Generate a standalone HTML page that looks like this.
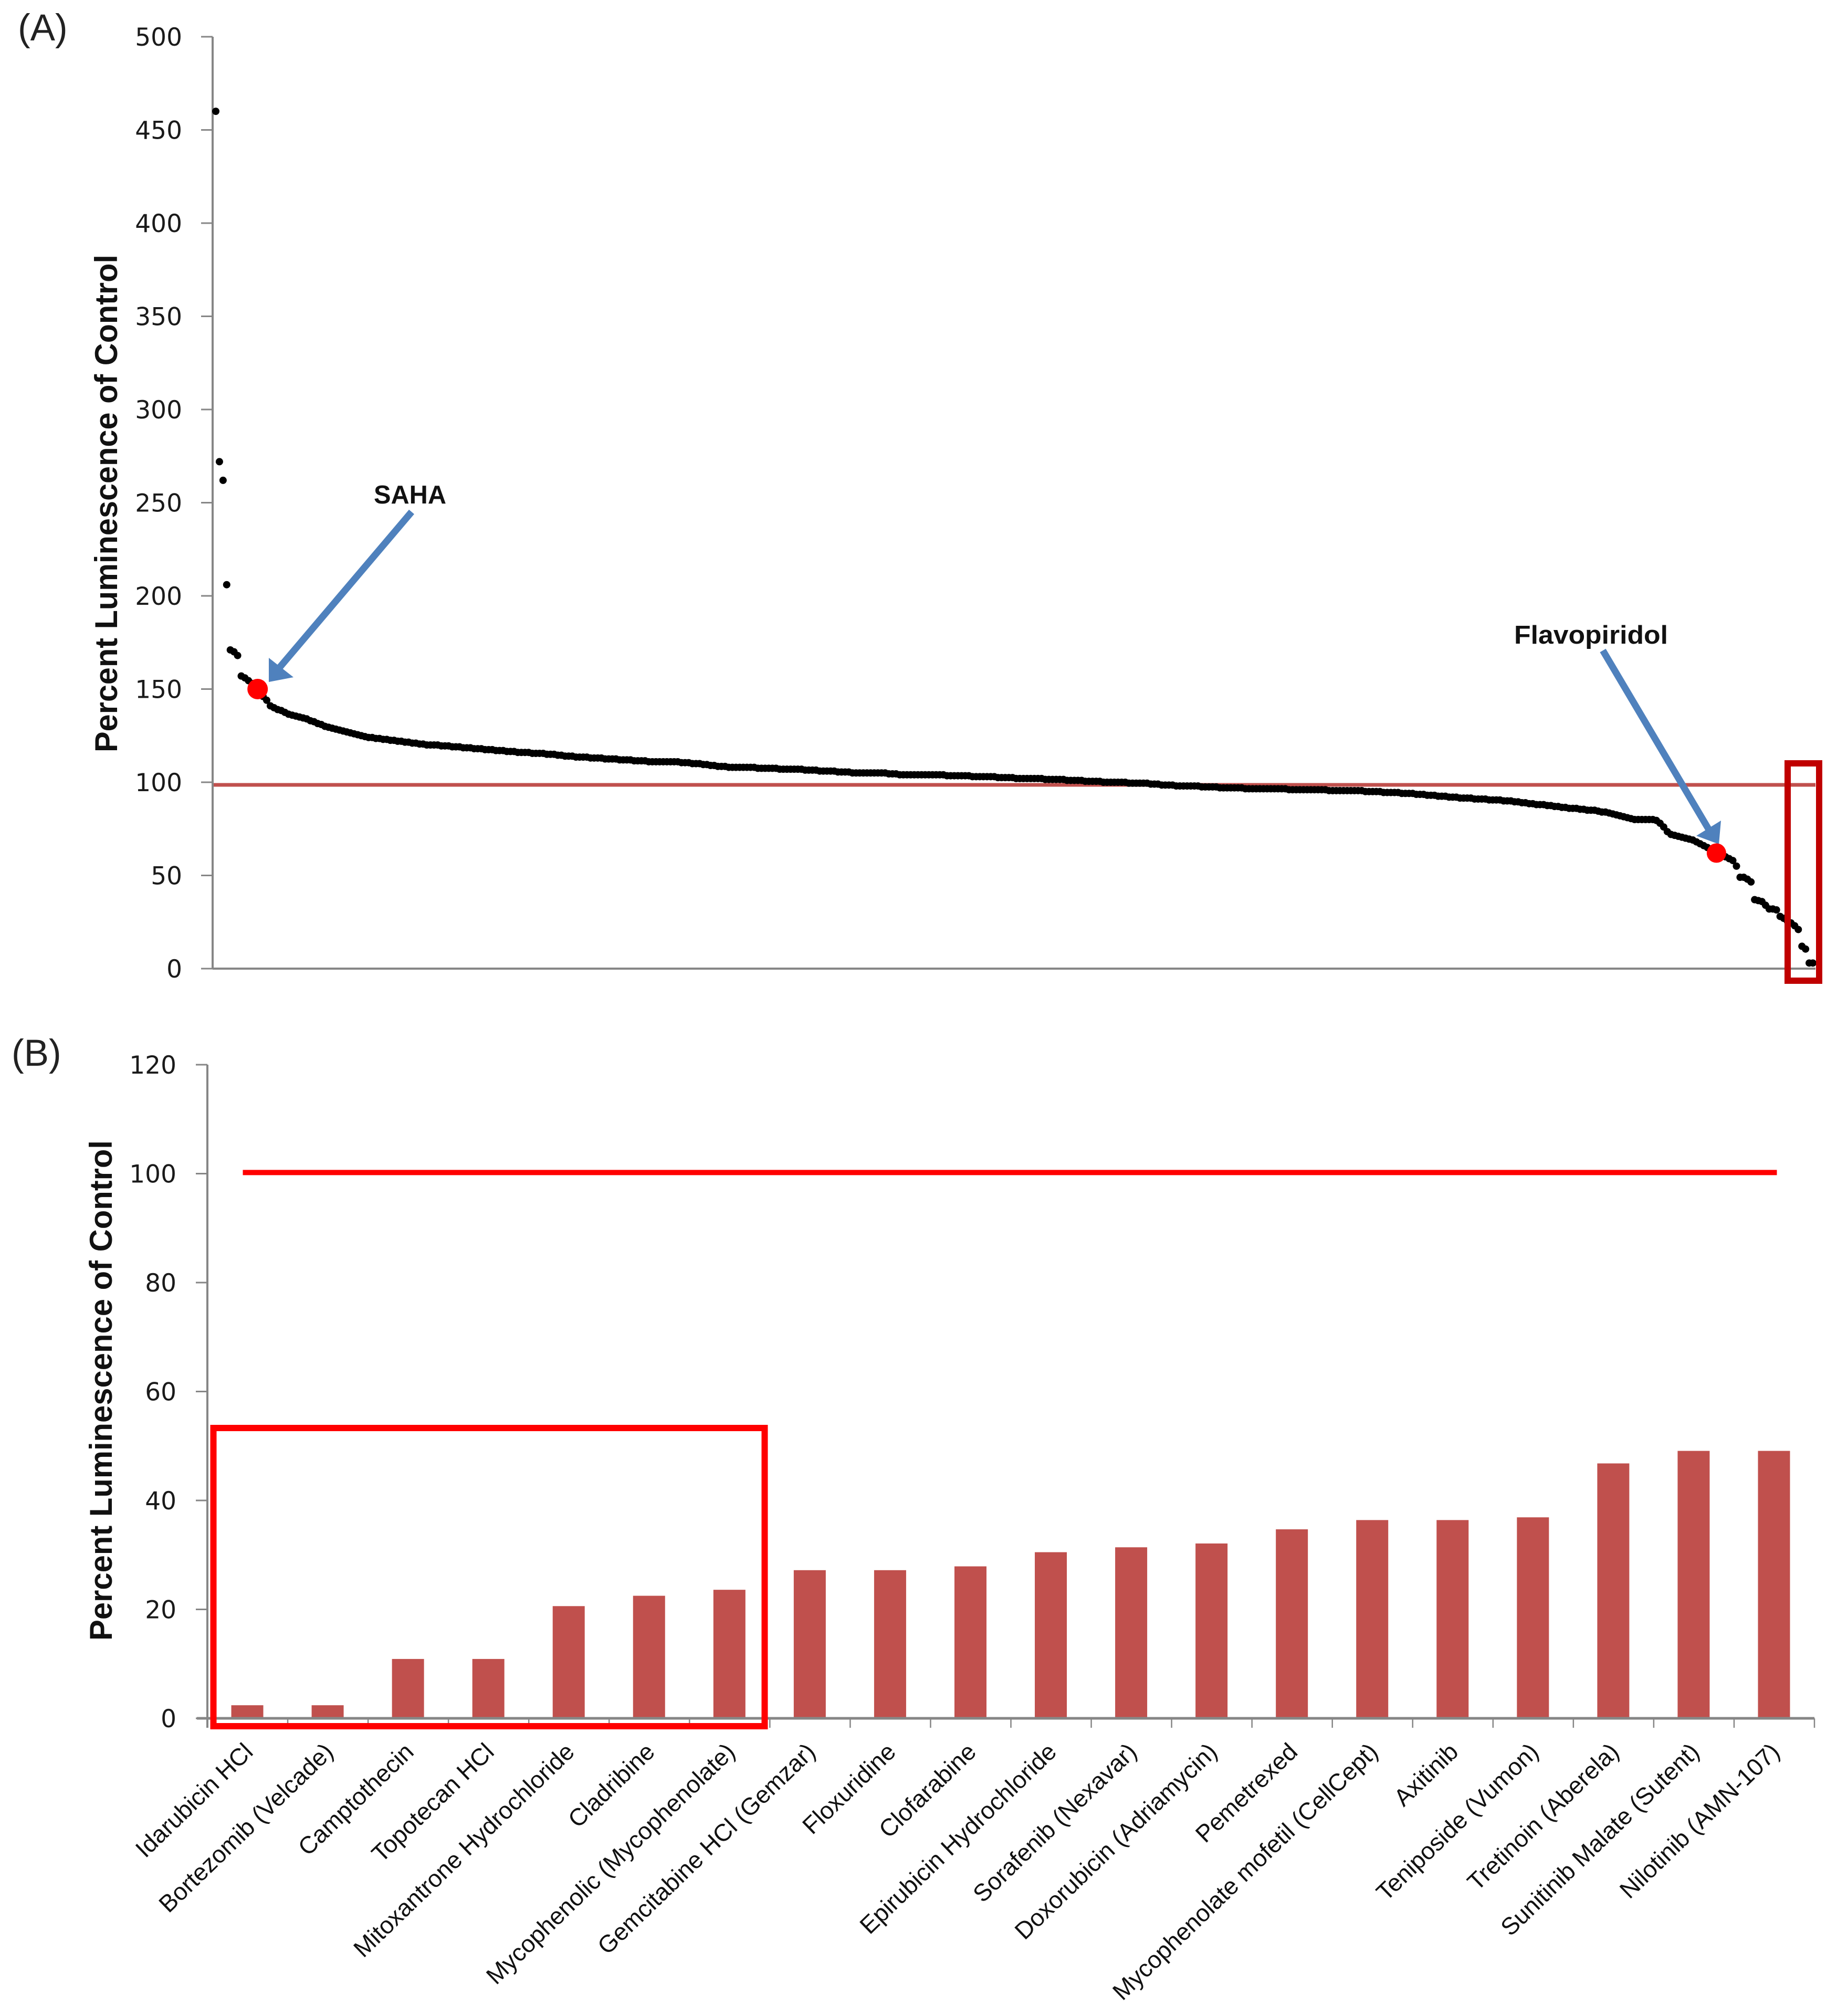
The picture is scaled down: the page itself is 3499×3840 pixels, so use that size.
<!DOCTYPE html>
<html lang="en">
<head>
<meta charset="utf-8">
<title>Percent Luminescence of Control</title>
<style>
html,body{margin:0;padding:0;background:#fff;}
svg{display:block;}
.tick{font-family:"DejaVu Sans",sans-serif;font-size:47px;fill:#1a1a1a;}
.title{font-family:"Liberation Sans",sans-serif;font-weight:bold;font-size:60px;fill:#111;}
.panel{font-family:"Liberation Sans",sans-serif;font-size:71px;fill:#222;}
.note{font-family:"Liberation Sans",sans-serif;font-weight:bold;font-size:49px;fill:#111;}
.cat{font-family:"Liberation Sans",sans-serif;font-size:46px;fill:#111;}
</style>
</head>
<body>
<svg id="figure" xmlns="http://www.w3.org/2000/svg" width="3499" height="3840" viewBox="0 0 3499 3840">
  <rect x="0" y="0" width="3499" height="3840" fill="#ffffff"/>
  <text class="panel" x="34" y="77">(A)</text>
  <text class="panel" x="22" y="2030">(B)</text>
  <text class="title" transform="translate(223,1433) rotate(-90)" textLength="948" lengthAdjust="spacingAndGlyphs">Percent Luminescence of Control</text>
  <text class="title" transform="translate(213,3125) rotate(-90)" textLength="953" lengthAdjust="spacingAndGlyphs">Percent Luminescence of Control</text>
  <g id="chartA"></g>
  <g id="chartB"></g>
  <text class="note" x="712" y="959" textLength="138" lengthAdjust="spacingAndGlyphs">SAHA</text>
  <text class="note" x="2884" y="1226" textLength="293" lengthAdjust="spacingAndGlyphs">Flavopiridol</text>
</svg>
<script>
// Panel A data
const aTicks = [0, 50, 100, 150, 200, 250, 300, 350, 400, 450, 500];
const aControlLevel = 98.6;
const aSahaPoint = [11.5, 150];
const aFlavopiridolPoint = [412.5, 62];
const aValues = [
460,272,262,206,171,170,168,157,156,154.5,153,151,148,146,144,141,140,139,138.5,137.5,
136.5,136,135.5,135,134.5,134,133,132.5,131.5,131,130,129.5,129,128.5,128,127.5,127,126.5,126,125.5,
125,124.5,124,124,123.5,123.5,123,123,122.5,122.5,122,122,121.5,121.5,121,121,120.5,120.5,120,120,
120,120,119.5,119.5,119.5,119,119,119,118.5,118.5,118.5,118,118,118,117.5,117.5,117.5,117,117,117,
116.5,116.5,116.5,116,116,116,116,115.5,115.5,115.5,115.5,115,115,115,114.5,114.5,114,114,114,113.5,
113.5,113.5,113.5,113,113,113,113,112.5,112.5,112.5,112.5,112,112,112,112,111.5,111.5,111.5,111.5,111,
111,111,111,111,111,111,111,111,110.5,110.5,110.5,110,110,110,109.5,109.5,109,109,108.5,108.5,
108.5,108,108,108,108,108,108,108,108,107.5,107.5,107.5,107.5,107.5,107.5,107,107,107,107,107,
107,107,106.5,106.5,106.5,106.5,106,106,106,106,106,105.5,105.5,105.5,105.5,105,105,105,105,105,
105,105,105,105,105,104.5,104.5,104.5,104,104,104,104,104,104,104,104,104,104,104,104,
104,103.5,103.5,103.5,103.5,103.5,103.5,103.5,103,103,103,103,103,103,103,102.5,102.5,102.5,102.5,102.5,
102,102,102,102,102,102,102,102,101.5,101.5,101.5,101.5,101.5,101.5,101,101,101,101,101,100.5,
100.5,100.5,100.5,100.5,100,100,100,100,100,100,100,99.5,99.5,99.5,99.5,99.5,99.5,99,99,99,
98.5,98.5,98.5,98.5,98,98,98,98,98,98,98,97.5,97.5,97.5,97.5,97.5,97,97,97,97,
97,97,97,96.5,96.5,96.5,96.5,96.5,96.5,96.5,96.5,96.5,96.5,96.5,96.5,96,96,96,96,96,
96,96,96,96,96,96,95.5,95.5,95.5,95.5,95.5,95.5,95.5,95.5,95.5,95.5,95,95,95,95,
95,94.5,94.5,94.5,94.5,94.5,94,94,94,94,93.5,93.5,93.5,93,93,93,92.5,92.5,92.5,92,
92,92,91.5,91.5,91.5,91.5,91,91,91,91,90.5,90.5,90.5,90.5,90,90,90,89.5,89.5,89,
89,88.5,88.5,88,88,88,87.5,87.5,87,87,86.5,86.5,86,86,86,85.5,85.5,85,85,85,
84.5,84,84,83.5,83,82.5,82,81.5,81,80.5,80,80,80,80,80,80,79.5,78,76,73.5,
72,71.5,71,70.5,70,69.5,69,68,67,66,65,64,63,62,61,60,59,58,55,49,
49,48,46.5,37,36.5,36,34,32,32,31.5,28,27,25.5,24.5,23,21,12,10.5,3,3
];

// Panel B data
const bTicks = [0, 20, 40, 60, 80, 100, 120];
const bCategories = [
"Idarubicin HCl","Bortezomib (Velcade)","Camptothecin","Topotecan HCl","Mitoxantrone Hydrochloride",
"Cladribine","Mycophenolic (Mycophenolate)","Gemcitabine HCl (Gemzar)","Floxuridine","Clofarabine",
"Epirubicin Hydrochloride","Sorafenib (Nexavar)","Doxorubicin (Adriamycin)","Pemetrexed",
"Mycophenolate mofetil (CellCept)","Axitinib","Teniposide (Vumon)","Tretinoin (Aberela)",
"Sunitinib Malate (Sutent)","Nilotinib (AMN-107)"
];
const bValues = [2.4,2.4,10.9,10.9,20.6,22.5,23.6,27.2,27.2,27.9,30.5,31.4,32.1,34.7,36.4,36.4,36.9,46.8,49.1,49.1];
const bControlLevel = 100.2;

const NS = "http://www.w3.org/2000/svg";
function make(parent, tag, attrs, text) {
  const el = document.createElementNS(NS, tag);
  for (const k in attrs) el.setAttribute(k, attrs[k]);
  if (text !== undefined) el.textContent = text;
  parent.appendChild(el);
  return el;
}

// Panel A scales
const aLeft = 405, aRight = 3458, aBase = 1845, aTop = 70;
const aFirstX = 411, aLastX = 3453;
function ax(i) { return aFirstX + i * (aLastX - aFirstX) / (aValues.length - 1); }
function ay(v) { return aBase - v * (aBase - aTop) / 500; }

const gA = document.getElementById("chartA");
const aYAxis = make(gA, "line", {x1:aLeft, y1:aTop, x2:aLeft, y2:aBase, stroke:"#868686", "stroke-width":4});


const aXAxis = make(gA, "line", {x1:aLeft, y1:aBase, x2:aRight, y2:aBase, stroke:"#868686", "stroke-width":4});


aTicks.forEach(function (t) {
  const mark = make(gA, "line", {x1:aLeft - 22, y1:ay(t), x2:aLeft, y2:ay(t), stroke:"#868686", "stroke-width":3});
  
  
  const label = make(gA, "text", {"class":"tick", x:347, y:ay(t) + 17, "text-anchor":"end"}, String(t));
  
  
});
const aLine = make(gA, "line", {x1:aLeft + 2, y1:ay(aControlLevel), x2:aRight, y2:ay(aControlLevel), stroke:"#c0504d", "stroke-width":7});


aValues.forEach(function (v, i) {
  const dot = make(gA, "circle", {cx:ax(i), cy:ay(v), r:7, fill:"#000"});
  
  
});

// annotation arrows
const arrowSahaShaft = make(gA, "line", {x1:784, y1:975, x2:532, y2:1272, stroke:"#4f81bd", "stroke-width":13});


const arrowSahaHead = make(gA, "polygon", {points:"512,1253 512,1299 559,1290", fill:"#4f81bd"});


const arrowFlavoShaft = make(gA, "line", {x1:3053, y1:1239, x2:3256, y2:1582, stroke:"#4f81bd", "stroke-width":13});


const arrowFlavoHead = make(gA, "polygon", {points:"3278,1563 3231,1592 3274,1608", fill:"#4f81bd"});



const sahaDot = make(gA, "circle", {cx:ax(aSahaPoint[0]), cy:ay(aSahaPoint[1]), r:19.5, fill:"#ff0000"});


const flavoDot = make(gA, "circle", {cx:ax(aFlavopiridolPoint[0]), cy:ay(aFlavopiridolPoint[1]), r:18.5, fill:"#ff0000"});


const aBox = make(gA, "rect", {x:3405, y:1454, width:60, height:414, fill:"none", stroke:"#c00000", "stroke-width":12});



// Panel B scales
const bLeft = 395, bRight = 3456, bBase = 3273, bTop = 2028;
const bPitch = (bRight - bLeft) / bCategories.length;
function bx(i) { return bLeft + bPitch * (i + 0.5); }
function by(v) { return bBase - v * (bBase - bTop) / 120; }

const gB = document.getElementById("chartB");
bValues.forEach(function (v, i) {
  const bar = make(gB, "rect", {x:bx(i) - 31, y:by(v), width:61, height:bBase - by(v), fill:"#c0504d"});
  
  
});
const bYAxis = make(gB, "line", {x1:bLeft, y1:bTop, x2:bLeft, y2:bBase + 18, stroke:"#868686", "stroke-width":4});


const bXAxis = make(gB, "line", {x1:bLeft - 20, y1:bBase, x2:bRight, y2:bBase, stroke:"#868686", "stroke-width":5});


bTicks.forEach(function (t) {
  const mark = make(gB, "line", {x1:bLeft - 22, y1:by(t), x2:bLeft, y2:by(t), stroke:"#868686", "stroke-width":3});
  
  
  const label = make(gB, "text", {"class":"tick", x:336, y:by(t) + 17, "text-anchor":"end"}, String(t));
  
  
});
bCategories.forEach(function (name, i) {
  const tickX = bLeft + bPitch * (i + 1);
  const mark = make(gB, "line", {x1:tickX, y1:bBase, x2:tickX, y2:bBase + 18, stroke:"#868686", "stroke-width":2.5});
  
  
  const label = make(gB, "text", {"class":"cat", "text-anchor":"end", transform:"translate(" + (bx(i) + 13) + "," + (bBase + 67) + ") rotate(-44)"}, name);
  
  
});
const bLine = make(gB, "line", {x1:bx(0) - 9, y1:by(bControlLevel), x2:bx(bCategories.length - 1) + 5, y2:by(bControlLevel), stroke:"#ff0000", "stroke-width":10});


const bBox = make(gB, "rect", {x:406.5, y:2720, width:1050, height:568, fill:"none", stroke:"#ff0000", "stroke-width":12});


</script>
</body>
</html>
